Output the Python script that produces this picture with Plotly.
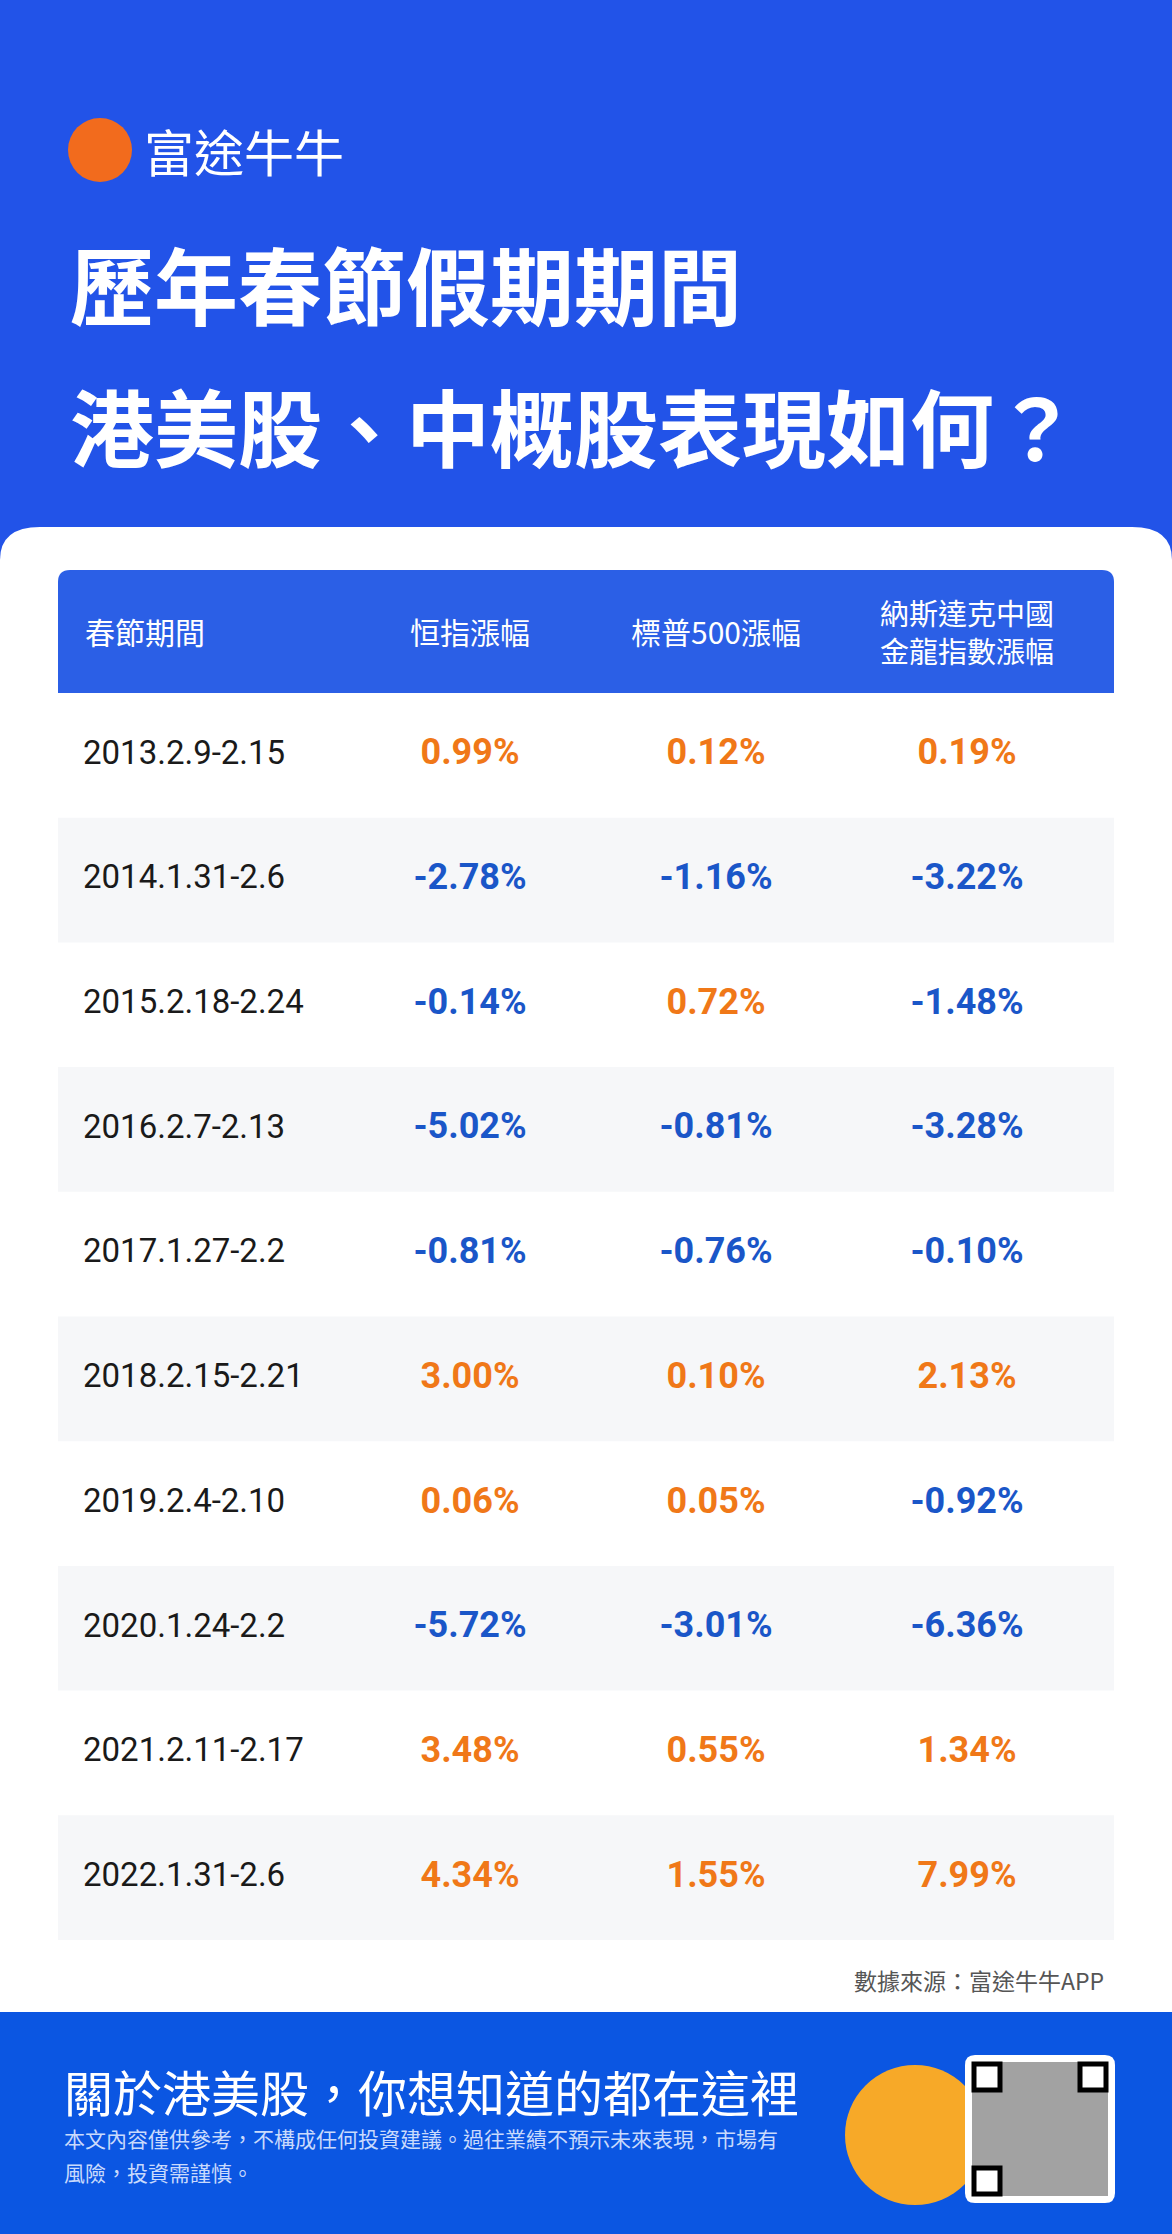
import plotly.graph_objects as go

W, H = 1172, 2234

periods = ["2013.2.9-2.15", "2014.1.31-2.6", "2015.2.18-2.24", "2016.2.7-2.13",
           "2017.1.27-2.2", "2018.2.15-2.21", "2019.2.4-2.10", "2020.1.24-2.2",
           "2021.2.11-2.17", "2022.1.31-2.6"]
hsi = [0.99, -2.78, -0.14, -5.02, -0.81, 3.00, 0.06, -5.72, 3.48, 4.34]
spx = [0.12, -1.16, 0.72, -0.81, -0.76, 0.10, 0.05, -3.01, 0.55, 1.55]
hxc = [0.19, -3.22, -1.48, -3.28, -0.10, 2.13, -0.92, -6.36, 1.34, 7.99]
headers = ["春節期間", "恒指漲幅", "標普500漲幅", "納斯達克中國<br>金龍指數漲幅"]

FONT = "Noto Sans CJK TC"
ORANGE = "#f07818"
BLUE = "#1a56c8"

top_row, row_h = 693, 124.7
fig = go.Figure()
shapes = []

# background
shapes.append(dict(type="rect", x0=0, x1=W, y0=0, y1=560, fillcolor="#2253e8", line_width=0, layer="below"))
shapes.append(dict(type="path", layer="below", line_width=0, fillcolor="white",
                   path=f"M0,560 Q0,527 40,527 L{W-40},527 Q{W},527 {W},560 L{W},2012 L0,2012 Z"))
shapes.append(dict(type="rect", x0=0, x1=W, y0=2012, y1=H, fillcolor="#0b56e2", line_width=0, layer="below"))
# header bar
shapes.append(dict(type="path", layer="below", line_width=0, fillcolor="#2b5fe6",
                   path="M58,693 L58,582 Q58,570 70,570 L1102,570 Q1114,570 1114,582 L1114,693 Z"))
# alternating rows
for i in range(len(periods)):
    if i % 2 == 1:
        y0 = top_row + i * row_h
        shapes.append(dict(type="rect", x0=58, x1=1114, y0=y0, y1=y0 + row_h,
                           fillcolor="#f6f7f9", line_width=0, layer="below"))
# logo
shapes.append(dict(type="circle", x0=68, x1=132, y0=118, y1=182, fillcolor="#f26b1d", line_width=0))
# mascot (simplified) and QR box
shapes.append(dict(type="circle", x0=845, x1=985, y0=2065, y1=2205, fillcolor="#f7a928", line_width=0))
shapes.append(dict(type="path", fillcolor="white", line_width=0,
                   path="M975,2055 L1105,2055 Q1115,2055 1115,2065 L1115,2193 Q1115,2203 1105,2203 L975,2203 Q965,2203 965,2193 L965,2065 Q965,2055 975,2055 Z"))
shapes.append(dict(type="rect", x0=972, x1=1108, y0=2062, y1=2196, fillcolor="#555", line_width=0, opacity=0.55))
for fx, fy in [(974, 2064), (1080, 2064), (974, 2168)]:
    shapes.append(dict(type="rect", x0=fx, x1=fx + 26, y0=fy, y1=fy + 26, fillcolor="white", line=dict(color="black", width=5)))

def col(v):
    return ORANGE if v >= 0 else BLUE

ys = [top_row + (i + 0.5) * row_h for i in range(len(periods))]
fig.add_trace(go.Scatter(x=[83] * len(periods), y=ys, mode="text", text=periods, textposition="middle right",
                         textfont=dict(family="Roboto", size=33, color="#1a1a1a")))
for cx, vals in [(470, hsi), (716, spx), (967, hxc)]:
    fig.add_trace(go.Scatter(x=[cx] * len(vals), y=ys, mode="text",
                             text=[f"<b>{v:.2f}%</b>" for v in vals],
                             textfont=dict(family="Roboto", size=36, color=[col(v) for v in vals])))

ann = []
def t(x, y, s, size, color="white", anchor="left"):
    ann.append(dict(x=x, y=y, xref="x", yref="y", text=s, showarrow=False, xanchor=anchor, yanchor="middle",
                    font=dict(family=FONT, size=size, color=color)))

t(83, 631, headers[0], 30)
t(470, 631, headers[1], 30, anchor="center")
t(716, 631, headers[2], 30, anchor="center")
t(967, 631, headers[3], 29, anchor="center")
t(142, 150, "富途牛牛", 50)
t(68, 282, "<b>歷年春節假期期間</b>", 84)
t(68, 424, "<b>港美股、中概股表現如何？</b>", 84)
t(1106, 1980, "數據來源：富途牛牛APP", 23, "#555", "right")
t(62, 2090, "關於港美股，你想知道的都在這裡", 49)
t(62, 2138, "本文內容僅供參考，不構成任何投資建議。過往業績不預示未來表現，市場有", 21, "#c9dafc")
t(62, 2172, "風險，投資需謹慎。", 21, "#c9dafc")

fig.update_layout(width=W, height=H, margin=dict(l=0, r=0, t=0, b=0), showlegend=False,
                  plot_bgcolor="white", paper_bgcolor="white", shapes=shapes, annotations=ann,
                  xaxis=dict(range=[0, W], visible=False, fixedrange=True),
                  yaxis=dict(range=[H, 0], visible=False, fixedrange=True))
fig.write_html("out.html", config={"displayModeBar": False},
               post_script="document.body.style.margin='0';")
